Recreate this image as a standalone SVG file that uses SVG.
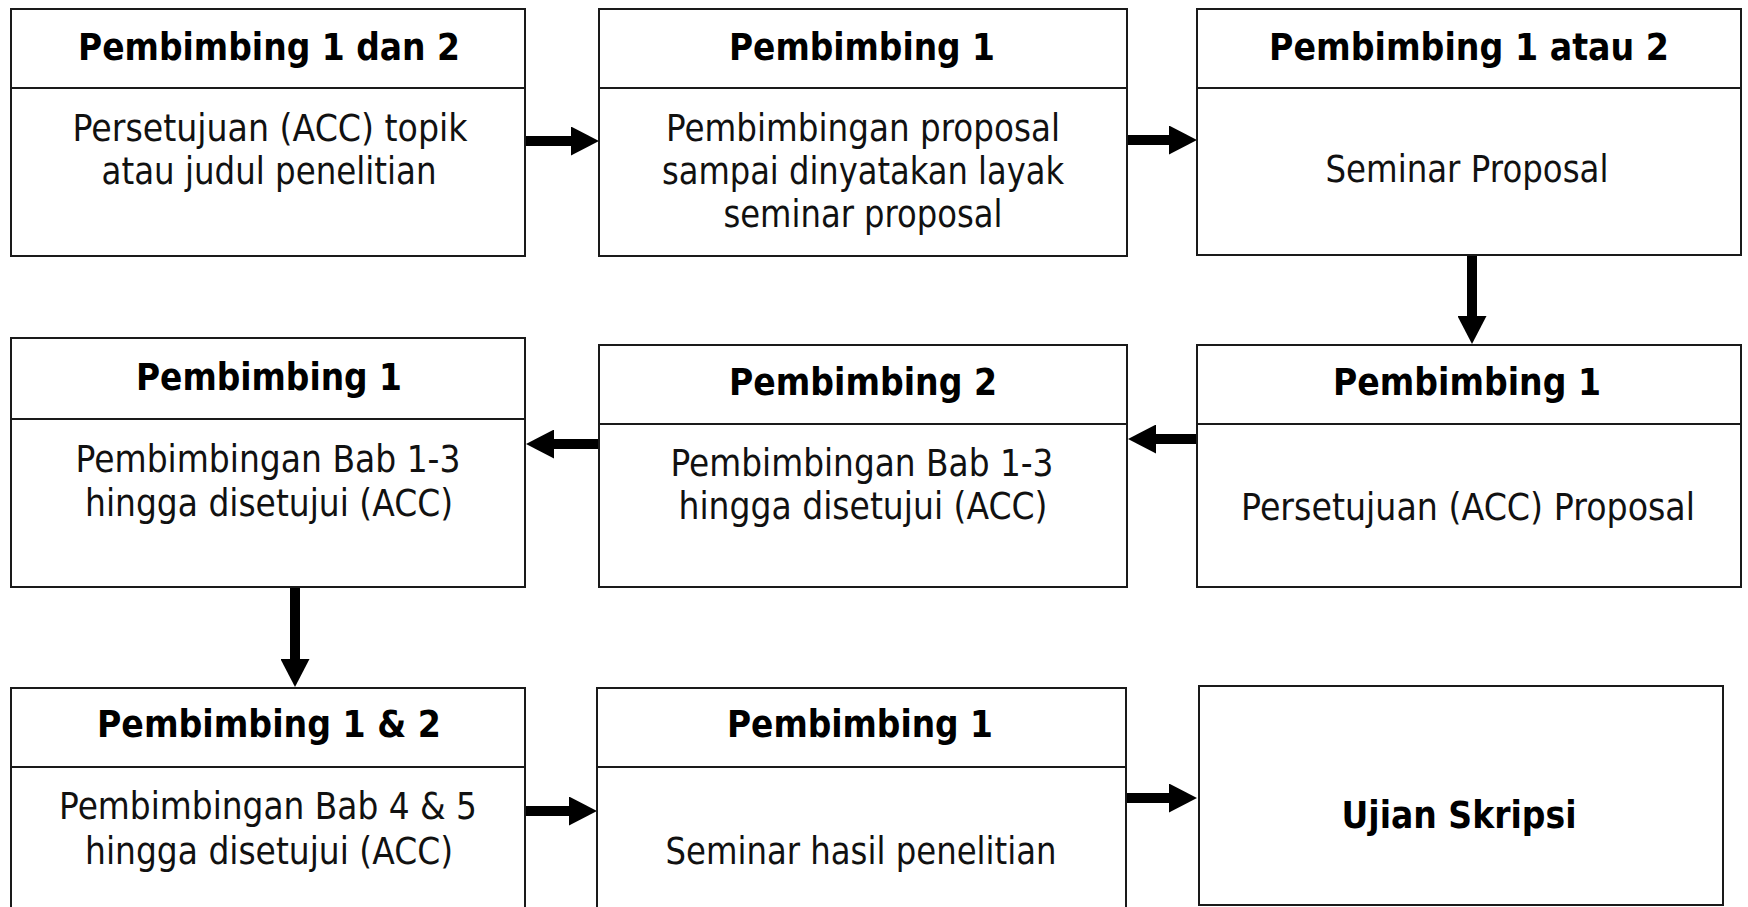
<svg xmlns="http://www.w3.org/2000/svg" width="1748" height="907" viewBox="0 0 1748 907">
<style>
.box{fill:#fff;stroke:#1a1a1a;stroke-width:2}
.div{stroke:#1a1a1a;stroke-width:2}
.t{font-family:"DejaVu Sans","Verdana",sans-serif;font-weight:bold;font-size:37px;fill:#000;text-anchor:middle}
.b{font-family:"DejaVu Sans","Verdana",sans-serif;font-size:37px;fill:#111;text-anchor:middle}
.c{stroke:#000;stroke-width:10;fill:none}
</style>
<defs>
<marker id="ah" markerUnits="userSpaceOnUse" markerWidth="28" markerHeight="29" refX="1" refY="14.5" orient="auto">
<path d="M0,0 L28,14.5 L0,29 z" fill="#000"/>
</marker>
</defs>
<rect width="1748" height="907" fill="#fff"/>
<g id="connectors">
<line class="c" x1="526" y1="141" x2="572" y2="141" marker-end="url(#ah)"/>
<line class="c" x1="1128" y1="140" x2="1170" y2="140" marker-end="url(#ah)"/>
<line class="c" x1="1472" y1="256" x2="1472" y2="317" marker-end="url(#ah)"/>
<line class="c" x1="1197" y1="439" x2="1155" y2="439" marker-end="url(#ah)"/>
<line class="c" x1="599" y1="444" x2="553" y2="444" marker-end="url(#ah)"/>
<line class="c" x1="295" y1="587" x2="295" y2="660" marker-end="url(#ah)"/>
<line class="c" x1="526" y1="811" x2="570" y2="811" marker-end="url(#ah)"/>
<line class="c" x1="1126" y1="798" x2="1170" y2="798" marker-end="url(#ah)"/>
</g>
<g id="node1">
<rect class="box" x="11" y="9" width="514" height="247"/>
<line class="div" x1="11" y1="88" x2="525" y2="88"/>
<text class="t" x="269" y="60" textLength="382" lengthAdjust="spacingAndGlyphs">Pembimbing 1 dan 2</text>
<text class="b" x="270" y="141" textLength="395" lengthAdjust="spacingAndGlyphs">Persetujuan (ACC) topik</text>
<text class="b" x="269" y="184" textLength="335" lengthAdjust="spacingAndGlyphs">atau judul penelitian</text>
</g>
<g id="node2">
<rect class="box" x="599" y="9" width="528" height="247"/>
<line class="div" x1="599" y1="88" x2="1127" y2="88"/>
<text class="t" x="862" y="60" textLength="266" lengthAdjust="spacingAndGlyphs">Pembimbing 1</text>
<text class="b" x="863" y="141" textLength="394" lengthAdjust="spacingAndGlyphs">Pembimbingan proposal</text>
<text class="b" x="863" y="184" textLength="402" lengthAdjust="spacingAndGlyphs">sampai dinyatakan layak</text>
<text class="b" x="863" y="227" textLength="279" lengthAdjust="spacingAndGlyphs">seminar proposal</text>
</g>
<g id="node3">
<rect class="box" x="1197" y="9" width="544" height="246"/>
<line class="div" x1="1197" y1="88" x2="1741" y2="88"/>
<text class="t" x="1469" y="60" textLength="400" lengthAdjust="spacingAndGlyphs">Pembimbing 1 atau 2</text>
<text class="b" x="1467" y="182" textLength="283" lengthAdjust="spacingAndGlyphs">Seminar Proposal</text>
</g>
<g id="node4">
<rect class="box" x="11" y="338" width="514" height="249"/>
<line class="div" x1="11" y1="419" x2="525" y2="419"/>
<text class="t" x="269" y="390" textLength="266" lengthAdjust="spacingAndGlyphs">Pembimbing 1</text>
<text class="b" x="268" y="472" textLength="385" lengthAdjust="spacingAndGlyphs">Pembimbingan Bab 1-3</text>
<text class="b" x="269" y="516" textLength="368" lengthAdjust="spacingAndGlyphs">hingga disetujui (ACC)</text>
</g>
<g id="node5">
<rect class="box" x="599" y="345" width="528" height="242"/>
<line class="div" x1="599" y1="424" x2="1127" y2="424"/>
<text class="t" x="863" y="395" textLength="268" lengthAdjust="spacingAndGlyphs">Pembimbing 2</text>
<text class="b" x="862" y="476" textLength="383" lengthAdjust="spacingAndGlyphs">Pembimbingan Bab 1-3</text>
<text class="b" x="863" y="519" textLength="369" lengthAdjust="spacingAndGlyphs">hingga disetujui (ACC)</text>
</g>
<g id="node6">
<rect class="box" x="1197" y="345" width="544" height="242"/>
<line class="div" x1="1197" y1="424" x2="1741" y2="424"/>
<text class="t" x="1467" y="395" textLength="268" lengthAdjust="spacingAndGlyphs">Pembimbing 1</text>
<text class="b" x="1468" y="520" textLength="454" lengthAdjust="spacingAndGlyphs">Persetujuan (ACC) Proposal</text>
</g>
<g id="node7">
<rect class="box" x="11" y="688" width="514" height="230"/>
<line class="div" x1="11" y1="767" x2="525" y2="767"/>
<text class="t" x="269" y="737" textLength="344" lengthAdjust="spacingAndGlyphs">Pembimbing 1 &amp; 2</text>
<text class="b" x="268" y="819" textLength="418" lengthAdjust="spacingAndGlyphs">Pembimbingan Bab 4 &amp; 5</text>
<text class="b" x="269" y="864" textLength="368" lengthAdjust="spacingAndGlyphs">hingga disetujui (ACC)</text>
</g>
<g id="node8">
<rect class="box" x="597" y="688" width="529" height="230"/>
<line class="div" x1="597" y1="767" x2="1126" y2="767"/>
<text class="t" x="860" y="737" textLength="266" lengthAdjust="spacingAndGlyphs">Pembimbing 1</text>
<text class="b" x="861" y="864" textLength="391" lengthAdjust="spacingAndGlyphs">Seminar hasil penelitian</text>
</g>
<g id="node9">
<rect class="box" x="1199" y="686" width="524" height="219"/>
<text class="t" x="1459" y="828" textLength="235" lengthAdjust="spacingAndGlyphs">Ujian Skripsi</text>
</g>
</svg>
